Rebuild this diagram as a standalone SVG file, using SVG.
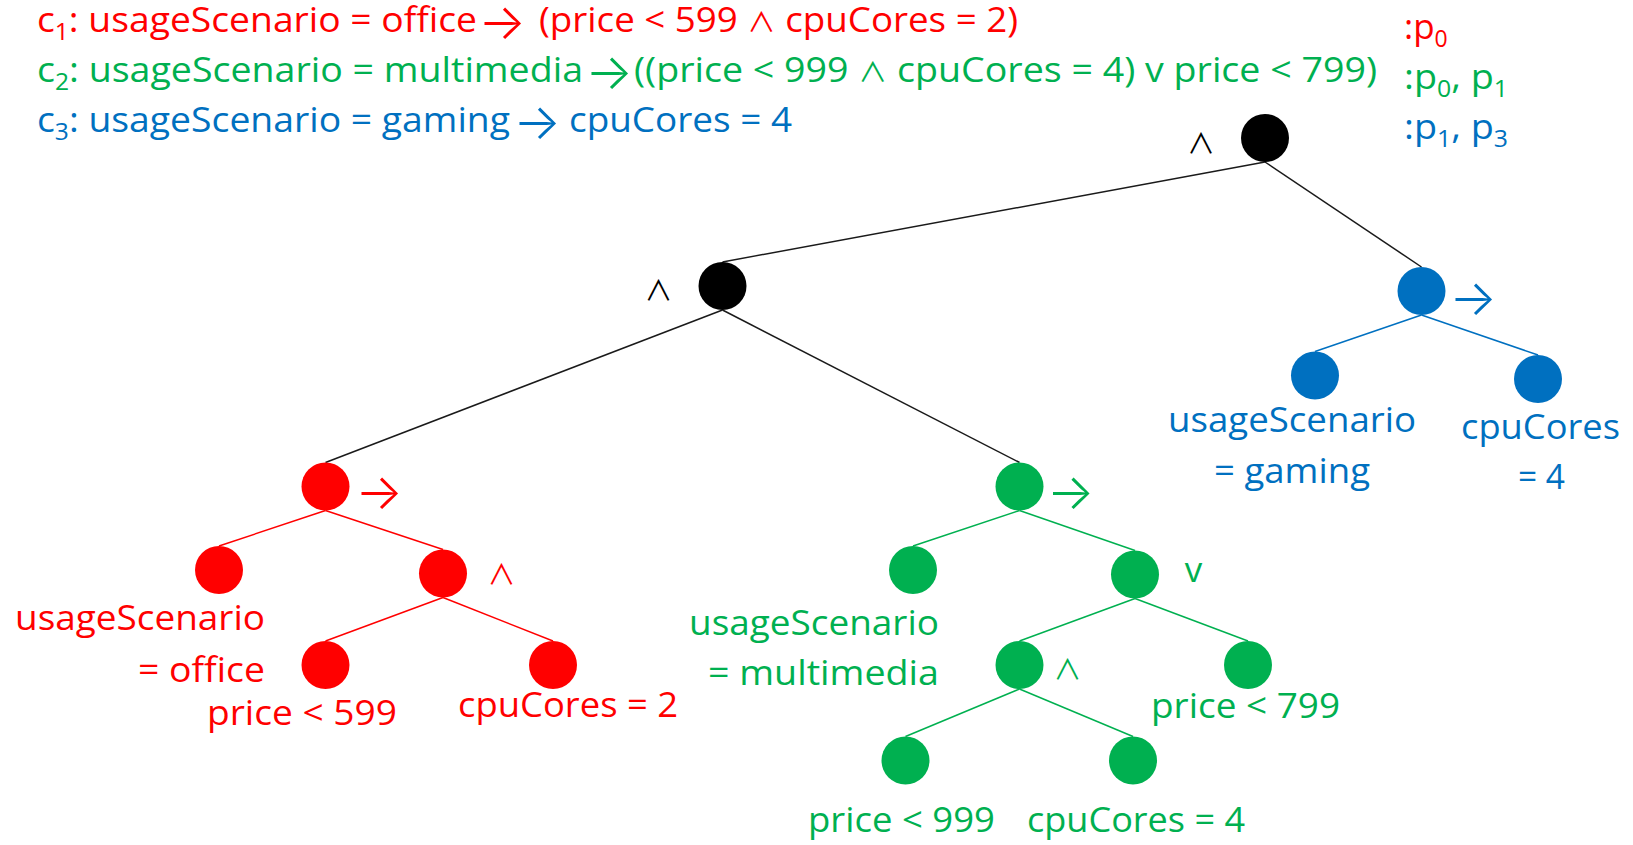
<svg xmlns="http://www.w3.org/2000/svg" width="1633" height="845" viewBox="0 0 1633 845">
  <style>
    text { font-family: 'Open Sans', 'Noto Sans CJK JP', sans-serif; font-size: 35px; }
    .op { font-family: 'Noto Sans CJK JP', 'DejaVu Sans', sans-serif; dominant-baseline: central; text-anchor: middle; }
    .arr { font-family: Inter, 'DejaVu Sans', sans-serif; font-size: 50px; font-weight: 300; }
    .and { font-size: 28px; }
    .sym { font-family: 'Noto Sans CJK JP', sans-serif; font-size: 27px; }
    .red { fill: #FF0000; }
    .green { fill: #00B050; }
    .blue { fill: #0070C0; }
    .black { fill: #000000; }
    .e-black { stroke: #1a1a1a; stroke-width: 1.5; }
    .e-red { stroke: #FF0000; stroke-width: 1.5; }
    .e-green { stroke: #00B050; stroke-width: 1.5; }
    .e-blue { stroke: #0070C0; stroke-width: 1.5; }
  </style>

  <!-- constraint formulas -->
  <g id="formulas">
    <text class="red" x="37" y="32" textLength="440" lengthAdjust="spacingAndGlyphs">c<tspan font-size="23" dy="8">1</tspan><tspan dy="-8">: usageScenario = office</tspan></text>
    <text class="red op arr" x="502" y="21">→</text>
    <text class="red" x="539" y="32" textLength="479" lengthAdjust="spacingAndGlyphs">(price &lt; 599 <tspan class="sym">∧</tspan> cpuCores = 2)</text>
    <text class="red" x="1404" y="39">:p<tspan font-size="23" dy="8">0</tspan></text>

    <text class="green" x="37" y="82" textLength="546" lengthAdjust="spacingAndGlyphs">c<tspan font-size="23" dy="8">2</tspan><tspan dy="-8">: usageScenario = multimedia</tspan></text>
    <text class="green op arr" x="609" y="71">→</text>
    <text class="green" x="634" y="82" textLength="743" lengthAdjust="spacingAndGlyphs">((price &lt; 999 <tspan class="sym">∧</tspan> cpuCores = 4) v price &lt; 799)</text>
    <text class="green" x="1404" y="89" textLength="104" lengthAdjust="spacingAndGlyphs">:p<tspan font-size="23" dy="8">0</tspan><tspan dy="-8">, p</tspan><tspan font-size="23" dy="8">1</tspan></text>

    <text class="blue" x="37" y="132" textLength="473" lengthAdjust="spacingAndGlyphs">c<tspan font-size="23" dy="8">3</tspan><tspan dy="-8">: usageScenario = gaming</tspan></text>
    <text class="blue op arr" x="537" y="121">→</text>
    <text class="blue" x="569" y="132" textLength="223" lengthAdjust="spacingAndGlyphs">cpuCores = 4</text>
    <text class="blue" x="1404" y="139" textLength="104" lengthAdjust="spacingAndGlyphs">:p<tspan font-size="23" dy="8">1</tspan><tspan dy="-8">, p</tspan><tspan font-size="23" dy="8">3</tspan></text>
  </g>

  <!-- edges: bottom of parent to top of child -->
  <g id="connectors" fill="none">
    <line class="e-black" x1="1265" y1="162" x2="722.5" y2="262"/>
    <line class="e-black" x1="1265" y1="162" x2="1421.5" y2="267"/>
    <line class="e-black" x1="722.5" y1="310" x2="325.5" y2="462.5"/>
    <line class="e-black" x1="722.5" y1="310" x2="1019.5" y2="462.5"/>

    <line class="e-blue" x1="1421.5" y1="315" x2="1315" y2="351.5"/>
    <line class="e-blue" x1="1421.5" y1="315" x2="1538" y2="355"/>

    <line class="e-red" x1="325.5" y1="510.5" x2="219" y2="546"/>
    <line class="e-red" x1="325.5" y1="510.5" x2="443" y2="549.5"/>
    <line class="e-red" x1="443" y1="597.5" x2="325.5" y2="641"/>
    <line class="e-red" x1="443" y1="597.5" x2="553" y2="641"/>

    <line class="e-green" x1="1019.5" y1="510.5" x2="913" y2="546"/>
    <line class="e-green" x1="1019.5" y1="510.5" x2="1135" y2="550.5"/>
    <line class="e-green" x1="1135" y1="598.5" x2="1019.5" y2="641"/>
    <line class="e-green" x1="1135" y1="598.5" x2="1248" y2="641"/>
    <line class="e-green" x1="1019.5" y1="689" x2="905.5" y2="736.5"/>
    <line class="e-green" x1="1019.5" y1="689" x2="1133" y2="736.5"/>
  </g>

  <!-- top-level conjunction -->
  <g id="n-root">
    <circle class="black" cx="1265" cy="138" r="24"/>
    <text class="black op and" x="1201" y="142">∧</text>
  </g>
  <g id="n-and">
    <circle class="black" cx="722.5" cy="286" r="24"/>
    <text class="black op and" x="658.5" y="289">∧</text>
  </g>

  <!-- c3 subtree -->
  <g id="n-c3-imp">
    <circle class="blue" cx="1421.5" cy="291" r="24"/>
    <text class="blue op arr" x="1473" y="296.5">→</text>
  </g>
  <g id="n-c3-usage">
    <circle class="blue" cx="1315" cy="375.5" r="24"/>
    <text class="blue" x="1168" y="432" textLength="248" lengthAdjust="spacingAndGlyphs">usageScenario</text>
    <text class="blue" x="1214" y="483" textLength="156" lengthAdjust="spacingAndGlyphs">= gaming</text>
  </g>
  <g id="n-c3-cores">
    <circle class="blue" cx="1538" cy="379" r="24"/>
    <text class="blue" x="1461" y="439" textLength="159" lengthAdjust="spacingAndGlyphs">cpuCores</text>
    <text class="blue" x="1518" y="489" textLength="47" lengthAdjust="spacingAndGlyphs">= 4</text>
  </g>

  <!-- c1 subtree -->
  <g id="n-c1-imp">
    <circle class="red" cx="325.5" cy="486.5" r="24"/>
    <text class="red op arr" x="379" y="491">→</text>
  </g>
  <g id="n-c1-usage">
    <circle class="red" cx="219" cy="570" r="24"/>
    <text class="red" x="15" y="630" textLength="250" lengthAdjust="spacingAndGlyphs">usageScenario</text>
    <text class="red" x="138" y="682" textLength="127" lengthAdjust="spacingAndGlyphs">= office</text>
  </g>
  <g id="n-c1-and">
    <circle class="red" cx="443" cy="573.5" r="24"/>
    <text class="red op and" x="501.5" y="572.5">∧</text>
  </g>
  <g id="n-c1-price">
    <circle class="red" cx="325.5" cy="665" r="24"/>
    <text class="red" x="207" y="725" textLength="190" lengthAdjust="spacingAndGlyphs">price &lt; 599</text>
  </g>
  <g id="n-c1-cores">
    <circle class="red" cx="553" cy="665" r="24"/>
    <text class="red" x="458" y="717" textLength="220" lengthAdjust="spacingAndGlyphs">cpuCores = 2</text>
  </g>

  <!-- c2 subtree -->
  <g id="n-c2-imp">
    <circle class="green" cx="1019.5" cy="486.5" r="24"/>
    <text class="green op arr" x="1070.5" y="490.5">→</text>
  </g>
  <g id="n-c2-usage">
    <circle class="green" cx="913" cy="570" r="24"/>
    <text class="green" x="689" y="635" textLength="250" lengthAdjust="spacingAndGlyphs">usageScenario</text>
    <text class="green" x="708" y="685" textLength="231" lengthAdjust="spacingAndGlyphs">= multimedia</text>
  </g>
  <g id="n-c2-or">
    <circle class="green" cx="1135" cy="574.5" r="24"/>
    <text class="green" x="1193.5" y="582" text-anchor="middle" font-size="30">v</text>
  </g>
  <g id="n-c2-and">
    <circle class="green" cx="1019.5" cy="665" r="24"/>
    <text class="green op and" x="1067.5" y="668">∧</text>
  </g>
  <g id="n-c2-p799">
    <circle class="green" cx="1248" cy="665" r="24"/>
    <text class="green" x="1151" y="718" textLength="189" lengthAdjust="spacingAndGlyphs">price &lt; 799</text>
  </g>
  <g id="n-c2-p999">
    <circle class="green" cx="905.5" cy="760.5" r="24"/>
    <text class="green" x="808" y="832" textLength="187" lengthAdjust="spacingAndGlyphs">price &lt; 999</text>
  </g>
  <g id="n-c2-cores">
    <circle class="green" cx="1133" cy="760.5" r="24"/>
    <text class="green" x="1027" y="832" textLength="218" lengthAdjust="spacingAndGlyphs">cpuCores = 4</text>
  </g>
</svg>
